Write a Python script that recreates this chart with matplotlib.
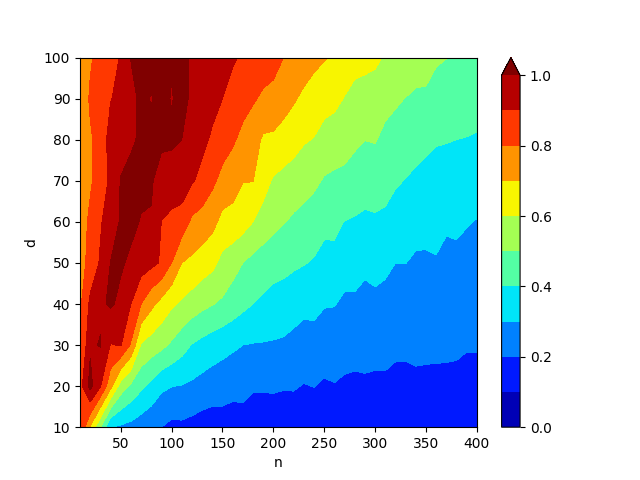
import numpy as np
import matplotlib
matplotlib.use("Agg")
import matplotlib.pyplot as plt

n_values = list(range(10, 401, 10))
d_values = [10, 20, 30, 40, 50, 60, 70, 80, 90, 100]

row_d10 = [.905,.69,.51,.305,.285,.27,.245,.22,.2005,.1745,.18,.168,.154,.147,.153,.144,.158,.137,.138,.136,
           .131,.144,.135,.14,.13,.135,.13,.125,.13,.125,.128,.118,.12,.128,.125,.125,.125,.125,.122,.122]
row_d20 = [.86,1.03,.905,.73,.555,.48,.42,.375,.32,.302,.296,.283,.266,.251,.245,.233,.229,.212,.211,.214,
           .2077,.2077,.1955,.202,.188,.196,.185,.181,.1865,.183,.185,.168,.17,.184,.183,.184,.185,.185,.1805,.1805]
row_d30 = [.771,.986,1.005,.895,.905,.79,.59,.555,.525,.485,.44,.395,.37,.35,.33,.315,.30,.295,.293,.29,
           .285,.272,.26,.255,.247,.243,.237,.232,.23,.227,.225,.222,.219,.217,.215,.213,.211,.209,.204,.204]
row_d40 = [.78,.92,.985,1.012,.98,.9,.80,.725,.665,.615,.585,.555,.525,.505,.485,.455,.425,.40,.385,.37,
           .36,.34,.3235,.331,.306,.304,.283,.284,.267,.282,.273,.26,.258,.25,.25,.255,.243,.25,.24,.238]
row_d50 = [.75,.84,.91,1.002,1.01,.985,.95,.925,.89,.80,.70,.68,.65,.625,.57,.535,.50,.47,.445,.43,
           .425,.415,.405,.39,.368,.375,.34,.338,.322,.325,.318,.30,.301,.288,.288,.295,.277,.287,.272,.27]
row_d60 = [.72,.83,.89,.95,1.01,1.02,.995,.99,.899,.875,.86,.78,.76,.73,.67,.67,.64,.60,.565,.53,
           .505,.485,.475,.46,.425,.42,.398,.39,.38,.385,.385,.36,.35,.328,.325,.32,.312,.31,.305,.296]
row_d70 = [.69,.78,.87,.91,1.005,1.02,1.02,1.015,.935,.955,.95,.91,.87,.82,.77,.735,.703,.702,.635,.59,
           .57,.55,.53,.515,.493,.485,.48,.46,.445,.45,.425,.41,.397,.385,.375,.365,.36,.355,.35,.345]
row_d80 = [.715,.79,.83,.945,.96,.99,1.01,1.025,1.03,1.015,1.0,.96,.925,.885,.845,.815,.77,.745,.685,.68,
           .66,.64,.61,.595,.55,.54,.53,.516,.501,.505,.478,.465,.442,.429,.418,.407,.404,.40,.396,.392]
row_d90 = [.74,.81,.85,.895,.93,.97,1.02,.995,1.025,.995,1.025,.985,.96,.93,.90,.87,.84,.81,.785,.775,
           .74,.71,.68,.665,.65,.63,.595,.56,.565,.575,.527,.512,.498,.486,.489,.49,.47,.46,.45,.435]
row_d100 = [.75,.79,.83,.87,.905,1.003,1.02,1.03,1.03,1.0075,1.01,.995,.97,.95,.93,.91,.89,.865,.845,.83,
            .80,.775,.75,.72,.705,.69,.665,.645,.625,.61,.595,.575,.56,.54,.525,.503,.501,.49,.48,.47]

Z = np.array([row_d10, row_d20, row_d30, row_d40, row_d50,
              row_d60, row_d70, row_d80, row_d90, row_d100])
levels = np.linspace(0, 1, 11)

fig, ax = plt.subplots(figsize=(6.4, 4.8), dpi=100)
cs = ax.contourf(n_values, d_values, Z, levels=levels, cmap="jet", extend="max")
fig.colorbar(cs, ax=ax, ticks=[0, .2, .4, .6, .8, 1.0])
ax.set_xlabel("n")
ax.set_ylabel("d")
fig.savefig("out.png", dpi=100)
